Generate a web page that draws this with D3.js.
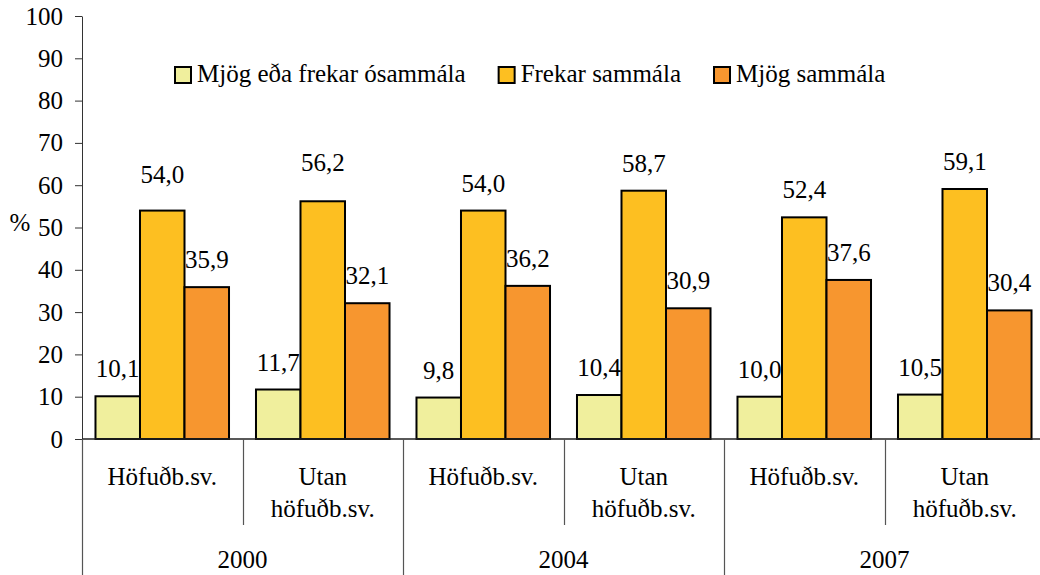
<!DOCTYPE html>
<html>
<head>
<meta charset="utf-8">
<script src="https://d3js.org/d3.v7.min.js"></script>
<style>
  body { margin: 0; }
  text { font-family: "Times New Roman", "Liberation Serif", Tinos, serif !important; }
</style>
</head>
<body>
<div class="chart"></div>
<script>
const years = ["2000", "2004", "2007"];
const regions = ["Höfuðb.sv.", "Utan höfuðb.sv."];
const series = ["Mjög eða frekar ósammála", "Frekar sammála", "Mjög sammála"];
const colors = ["#f0ef9d", "#fdbf21", "#f7962f"];
// one row per year x region, one value per series
const disagree = [10.1, 11.7, 9.8, 10.4, 10.0, 10.5];
const agree = [54.0, 56.2, 54.0, 58.7, 52.4, 59.1];
const stronglyAgree = [35.9, 32.1, 36.2, 30.9, 37.6, 30.4];
const yTicks = [0, 10, 20, 30, 40, 50, 60, 70, 80, 90, 100];

// a couple of labels were dragged up in the original
const labelLift = { "0-1": 9, "1-1": 11 };

const w = 1040;
const h = 575;
const plotLeft = 82, plotRight = 1045, plotTop = 16, base = 439;
const serifFamily = '"Times New Roman", "Liberation Serif", Tinos, serif';

const categories = [];
years.forEach(y => regions.forEach(r => categories.push(y + "|" + r)));
const values = [disagree, agree, stronglyAgree];

const svg = d3.select(".chart").append("svg")
    .attr("width", w)
    .attr("height", h)
    .style("display", "block");

function styleText(sel) {
  sel.attr("font-family", serifFamily)
     .style("font-family", serifFamily)
     .attr("font-size", 25)
     .attr("fill", "black");
}

const yScale = d3.scaleLinear().domain([0, 100]).range([base, plotTop]);
const x0 = d3.scaleBand().domain(categories).range([plotLeft, plotRight]);
const x1 = d3.scaleBand().domain(series).range([0, x0.bandwidth()]).paddingOuter(0.303);

// y axis
const yAxis = svg.append("g")
    .attr("transform", `translate(${plotLeft},0)`)
    .call(d3.axisLeft(yScale).tickValues(yTicks).tickSize(7).tickPadding(12).tickSizeOuter(0));
yAxis.attr("font-family", serifFamily).attr("font-size", 25);
yAxis.selectAll("text").call(styleText);
yAxis.selectAll("path, line").attr("stroke", "#333");

svg.append("text")
    .attr("x", 20).attr("y", 231)
    .attr("text-anchor", "middle")
    .call(styleText)
    .text("%");

// bars
categories.forEach((c, i) => {
  series.forEach((s, j) => {
    const v = values[j][i];
    svg.append("rect")
        .attr("x", x0(c) + x1(s))
        .attr("y", yScale(v))
        .attr("width", x1.bandwidth())
        .attr("height", base - yScale(v))
        .attr("fill", colors[j])
        .attr("stroke", "black")
        .attr("stroke-width", 2);
  });
});

// value labels
categories.forEach((c, i) => {
  series.forEach((s, j) => {
    const v = values[j][i];
    const lift = labelLift[i + "-" + j] || 0;
    svg.append("text")
        .attr("x", x0(c) + x1(s) + x1.bandwidth() / 2)
        .attr("y", yScale(v) - 19 - lift)
        .attr("text-anchor", "middle")
        .call(styleText)
        .text(v.toFixed(1).replace(".", ","));
  });
});

// x axis line
svg.append("line")
    .attr("x1", plotLeft).attr("x2", w)
    .attr("y1", base).attr("y2", base)
    .attr("stroke", "#222").attr("stroke-width", 1.5);

// separators: between regions short, between years long
categories.forEach((c, i) => {
  const x = Math.round(x0(c)) + 0.5;
  svg.append("line")
      .attr("x1", x).attr("x2", x)
      .attr("y1", base).attr("y2", i % regions.length === 0 ? h : 525)
      .attr("stroke", "#555").attr("stroke-width", 1.2);
});

// region labels
categories.forEach((c, i) => {
  const name = regions[i % regions.length];
  const cx = x0(c) + x0.bandwidth() / 2;
  const t = svg.append("text")
      .attr("text-anchor", "middle")
      .call(styleText);
  if (name.indexOf(" ") < 0) {
    t.append("tspan").attr("x", cx).attr("y", 485).text(name);
  } else {
    const parts = name.split(" ");
    t.append("tspan").attr("x", cx).attr("y", 485).text(parts[0]);
    t.append("tspan").attr("x", cx).attr("y", 517).text(parts.slice(1).join(" "));
  }
});

// year labels
years.forEach((y, k) => {
  const first = x0(categories[k * regions.length]);
  const last = x0(categories[k * regions.length + regions.length - 1]) + x0.bandwidth();
  svg.append("text")
      .attr("x", (first + last) / 2)
      .attr("y", 568)
      .attr("text-anchor", "middle")
      .call(styleText)
      .text(y);
});

// legend
let lx = 175;
series.forEach((s, j) => {
  svg.append("rect")
      .attr("x", lx).attr("y", 67)
      .attr("width", 16).attr("height", 16)
      .attr("fill", colors[j])
      .attr("stroke", "black").attr("stroke-width", 2);
  const t = svg.append("text")
      .attr("x", lx + 22).attr("y", 82)
      .call(styleText)
      .text(s);
  lx += 22 + t.node().getComputedTextLength() + 33;
});
</script>
</body>
</html>
